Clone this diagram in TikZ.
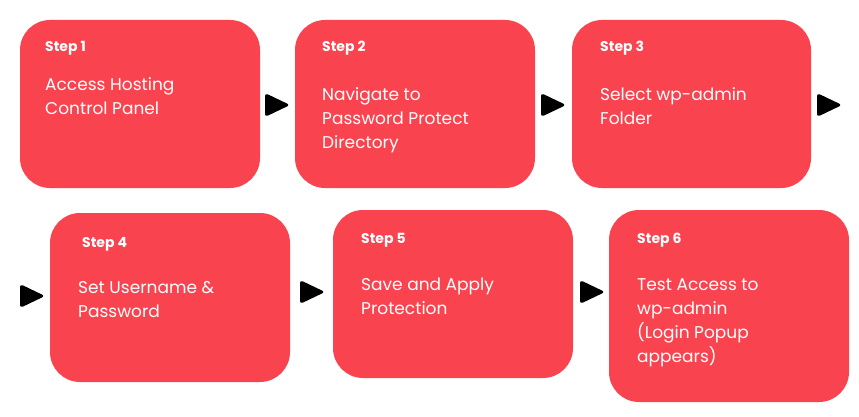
\documentclass[tikz,border=0pt]{standalone}
\usepackage{fontspec}
\setmainfont{Poppins}
\definecolor{boxred}{HTML}{F9434F}
\begin{document}
\begin{tikzpicture}[x=1pt,y=-1pt,
  stepbox/.style={fill=boxred,rounded corners=30pt},
  steplbl/.style={anchor=base west,inner sep=0pt,text=white,font=\fontsize{14}{16}\selectfont\bfseries},
  body/.style={anchor=base west,inner sep=0pt,text=white,align=left,font=\fontsize{17}{24}\selectfont},
  tri/.style={fill=black,rounded corners=3pt}]
\useasboundingbox (0,0) rectangle (859,417);
\newcommand\tri[2]{\fill[tri] (#1,#2-12) -- (#1+25,#2) -- (#1,#2+12) -- cycle;}
\fill[stepbox] (20,20) rectangle (260,188);
\fill[stepbox] (295,20) rectangle (535,188);
\fill[stepbox] (572,20) rectangle (811,188);
\fill[stepbox] (50,213) rectangle (290,382);
\fill[stepbox] (333,210) rectangle (573,378);
\fill[stepbox] (609,210) rectangle (849,402);
\node[steplbl] (s1) at (45,52) {Step 1};
\node[steplbl] (s2) at (322,52) {Step 2};
\node[steplbl] (s3) at (600,52) {Step 3};
\node[steplbl] (s4) at (82,247) {Step 4};
\node[steplbl] (s5) at (361,243) {Step 5};
\node[steplbl] (s6) at (637,243) {Step 6};
\node[body,anchor=north west] (b1) at (45,77) {Access Hosting\\Control Panel};
\node[body,anchor=north west] (b2) at (322,87) {Navigate to\\Password Protect\\Directory};
\node[body,anchor=north west] (b3) at (600,87) {Select wp-admin\\Folder};
\node[body,anchor=north west] (b4) at (78,281) {Set Username \&\\Password};
\node[body,anchor=north west] (b5) at (361,278) {Save and Apply\\Protection};
\node[body,anchor=north west] (b6) at (637,278) {Test Access to\\wp-admin\\(Login Popup\\appears)};
\tri{265}{105}
\tri{541}{105}
\tri{817}{105}
\tri{20}{296}
\tri{300}{292}
\tri{580}{292}
\end{tikzpicture}
\end{document}
